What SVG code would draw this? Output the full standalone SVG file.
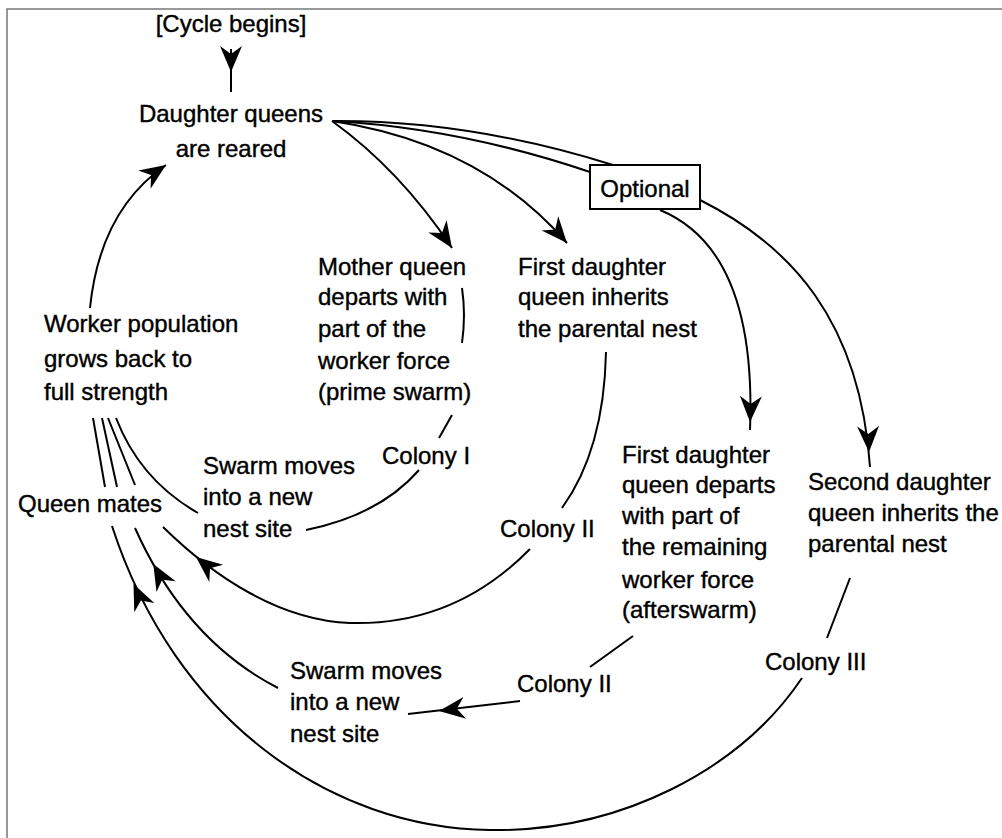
<svg xmlns="http://www.w3.org/2000/svg" xmlns:xlink="http://www.w3.org/1999/xlink" width="1002" height="838" viewBox="0 0 1002 838">
<style>
.t{font-family:"Liberation Sans",Arial,sans-serif;font-size:24px;fill:#000;stroke:#000;stroke-width:0.4}
.m{text-anchor:middle}
.c{fill:none;stroke:#000;stroke-width:2}
.frame{fill:none;stroke:#777;stroke-width:1.5}
</style>
<defs>
<path id="ah" d="M0,0 L-26,-11 L-18,0 L-26,11 Z" fill="#000"/>
</defs>
<rect width="1002" height="838" fill="#fff"/>
<path class="frame" d="M7,838 L7,9 L1002,9"/>
<g id="connectors">
<path class="c" d="M231,49 L231,92"/>
<use xlink:href="#ah" href="#ah" transform="translate(231,72) rotate(90)"/>
<path class="c" d="M90,308 Q100,210 166,165"/>
<use xlink:href="#ah" href="#ah" transform="translate(166,165) rotate(-34)"/>
<path class="c" d="M332,121 Q400,170 452,248"/>
<use xlink:href="#ah" href="#ah" transform="translate(452,248) rotate(56)"/>
<path class="c" d="M332,121 Q480,143 567,243"/>
<use xlink:href="#ah" href="#ah" transform="translate(567,243) rotate(49)"/>
<path class="c" d="M332,121 Q460,128 590,172"/>
<path class="c" d="M332,121 Q470,120 613,165"/>
<path class="c" d="M660,210 Q757,250 750,430"/>
<use xlink:href="#ah" href="#ah" transform="translate(750,422) rotate(92)"/>
<path class="c" d="M700,200 C790,245 860,320 870,467"/>
<use xlink:href="#ah" href="#ah" transform="translate(869,452) rotate(88)"/>
<path class="c" d="M462,288 Q466,315 462,343"/>
<path class="c" d="M452,415 L439,438"/>
<path class="c" d="M419,470 Q380,515 306,530"/>
<path class="c" d="M606,352 Q604,450 562,508"/>
<path class="c" d="M530,549 C480,600 420,625 350,623 C280,620 215,578 163,527"/>
<use xlink:href="#ah" href="#ah" transform="translate(196,557) rotate(-141)"/>
<path class="c" d="M93,418 L105,487"/>
<path class="c" d="M102,418 L117,487"/>
<path class="c" d="M108,418 L135,485"/>
<path class="c" d="M116,418 Q140,480 198,513"/>
<path class="c" d="M278,688 Q185,640 135,528"/>
<use xlink:href="#ah" href="#ah" transform="translate(153.3,564) rotate(-119.5)"/>
<path class="c" d="M802,678 C740,770 620,832 490,830 C330,828 175,720 112,526"/>
<use xlink:href="#ah" href="#ah" transform="translate(133.5,584) rotate(-114.5)"/>
<path class="c" d="M520,701 L408,714"/>
<use xlink:href="#ah" href="#ah" transform="translate(439,711) rotate(173)"/>
<path class="c" d="M633,636 L590,667"/>
<path class="c" d="M850,578 L827,638"/>
</g>
<g id="cycle-begins"><text class="t m" x="231" y="32">[Cycle begins]</text></g>
<g id="daughter-queens-reared"><text class="t m" x="231" y="122">Daughter queens</text><text class="t m" x="231" y="157">are reared</text></g>
<g id="optional"><rect x="590" y="165" width="110" height="44" fill="#fff" stroke="#000" stroke-width="2"/><text class="t m" x="645" y="197">Optional</text></g>
<g id="mother-queen"><text class="t" x="318" y="275">Mother queen</text><text class="t" x="318" y="305">departs with</text><text class="t" x="318" y="337">part of the</text><text class="t" x="318" y="369">worker force</text><text class="t" x="318" y="400">(prime swarm)</text></g>
<g id="first-daughter-inherits"><text class="t" x="518" y="275">First daughter</text><text class="t" x="518" y="305">queen inherits</text><text class="t" x="518" y="337">the parental nest</text></g>
<g id="worker-population"><text class="t" x="44" y="332">Worker population</text><text class="t" x="44" y="367">grows back to</text><text class="t" x="44" y="400">full strength</text></g>
<g id="colony-1"><text class="t" x="382" y="464">Colony I</text></g>
<g id="swarm-1"><text class="t" x="203" y="474">Swarm moves</text><text class="t" x="203" y="505">into a new</text><text class="t" x="203" y="537">nest site</text></g>
<g id="queen-mates"><text class="t" x="18" y="512">Queen mates</text></g>
<g id="colony-2a"><text class="t" x="500" y="537">Colony II</text></g>
<g id="first-daughter-departs"><text class="t" x="622" y="463">First daughter</text><text class="t" x="622" y="493">queen departs</text><text class="t" x="622" y="524">with part of</text><text class="t" x="622" y="555">the remaining</text><text class="t" x="622" y="588">worker force</text><text class="t" x="622" y="618">(afterswarm)</text></g>
<g id="second-daughter"><text class="t" x="808" y="490">Second daughter</text><text class="t" x="808" y="521">queen inherits the</text><text class="t" x="808" y="552">parental nest</text></g>
<g id="colony-3"><text class="t" x="765" y="670">Colony III</text></g>
<g id="colony-2b"><text class="t" x="517" y="692">Colony II</text></g>
<g id="swarm-2"><text class="t" x="290" y="679">Swarm moves</text><text class="t" x="290" y="710">into a new</text><text class="t" x="290" y="742">nest site</text></g>
</svg>
